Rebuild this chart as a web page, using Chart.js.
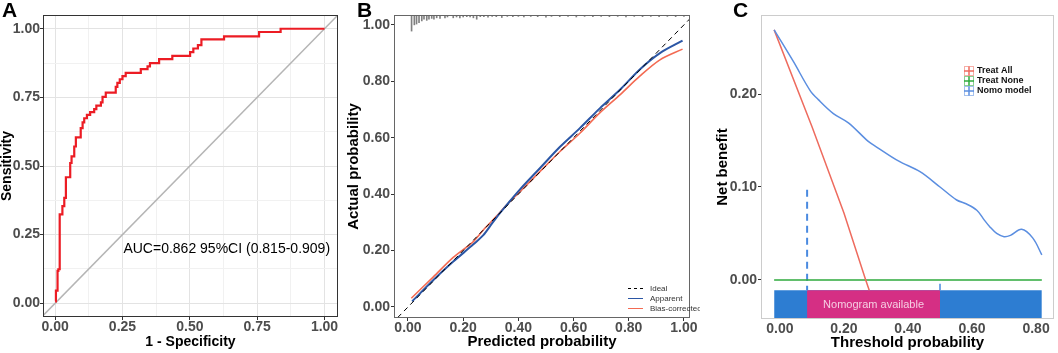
<!DOCTYPE html>
<html>
<head>
<meta charset="utf-8">
<title>ROC, calibration and decision curves</title>
<script src="https://cdn.jsdelivr.net/npm/chart.js"></script>
<style>
  body { margin: 0; background: #fff; font-family: "Liberation Sans", Arial, sans-serif; }
  #wrap { position: relative; width: 1058px; height: 353px; overflow: hidden; }
  canvas { position: absolute; top: 0; }
  .tag { position: absolute; top: -1px; font-size: 21px; line-height: 21px; font-weight: bold; color: #000; }
</style>
</head>
<body>
<div id="wrap">
  <canvas id="rocChart" width="345" height="353" style="left:0"></canvas>
  <canvas id="calChart" width="355" height="353" style="left:345px"></canvas>
  <canvas id="dcaChart" width="358" height="353" style="left:700px"></canvas>
  <div class="tag" style="left:2px">A</div>
  <div class="tag" style="left:357px">B</div>
  <div class="tag" style="left:733px">C</div>
</div>

<script>
  // ---- A: ROC curve (step points: at each fpr the curve rises to sens)
  const rocFpr = [0, 0.003, 0.009, 0.012, 0.017, 0.027, 0.034, 0.040, 0.056, 0.061,
                  0.071, 0.077, 0.095, 0.102, 0.108, 0.118, 0.130, 0.145, 0.153, 0.170,
                  0.176, 0.188, 0.225, 0.231, 0.240, 0.250, 0.262, 0.318, 0.343, 0.352,
                  0.386, 0.435, 0.501, 0.513, 0.530, 0.543, 0.627, 0.757, 0.837, 1.0];
  const rocSens = [0.007, 0.046, 0.118, 0.124, 0.324, 0.354, 0.384, 0.459, 0.511, 0.535,
                   0.571, 0.604, 0.638, 0.659, 0.674, 0.686, 0.696, 0.707, 0.720, 0.732,
                   0.752, 0.767, 0.788, 0.803, 0.816, 0.827, 0.839, 0.853, 0.863, 0.875,
                   0.889, 0.901, 0.915, 0.928, 0.940, 0.961, 0.972, 0.988, 1.0, 1.0];
  const rocTicks = [0, 0.25, 0.5, 0.75, 1];
  const rocMinor = [0.125, 0.375, 0.625, 0.875];
  const aucText = 'AUC=0.862 95%CI (0.815-0.909)';

  // ---- B: calibration curve
  const calTicks = [0, 0.2, 0.4, 0.6, 0.8, 1];
  const apparentX = [0.015, 0.092, 0.164, 0.237, 0.273, 0.300, 0.321, 0.358, 0.406, 0.478, 0.551, 0.623, 0.696, 0.768, 0.841, 0.913, 0.995];
  const apparentY = [0.020, 0.096, 0.161, 0.222, 0.255, 0.290, 0.318, 0.362, 0.417, 0.492, 0.568, 0.634, 0.705, 0.770, 0.843, 0.900, 0.944];
  const biasX = [0.012, 0.092, 0.164, 0.237, 0.273, 0.321, 0.358, 0.406, 0.478, 0.551, 0.623, 0.696, 0.768, 0.841, 0.913, 0.995];
  const biasY = [0.031, 0.107, 0.176, 0.232, 0.273, 0.322, 0.362, 0.409, 0.480, 0.551, 0.616, 0.689, 0.752, 0.819, 0.876, 0.914];
  // distribution of predicted probabilities (spike heights, y units)
  const spikeX = [0.013, 0.023, 0.031, 0.040, 0.050, 0.058, 0.068, 0.076, 0.086, 0.094,
                  0.104, 0.116, 0.134, 0.143, 0.164, 0.176, 0.188, 0.200, 0.213, 0.225,
                  0.237, 0.249, 0.262, 0.275, 0.290, 0.305, 0.320, 0.340, 0.360, 0.380,
                  0.400, 0.420, 0.445, 0.470, 0.500, 0.520, 0.550, 0.580, 0.610, 0.640,
                  0.670, 0.700, 0.730, 0.760, 0.790, 0.820, 0.850, 0.880, 0.910, 0.940,
                  0.970, 1.000];
  const spikeH = [0.057, 0.035, 0.032, 0.027, 0.021, 0.015, 0.019, 0.015, 0.012, 0.015,
                  0.010, 0.012, 0.010, 0.007, 0.010, 0.007, 0.010, 0.007, 0.006, 0.007,
                  0.010, 0.015, 0.006, 0.006, 0.008, 0.005, 0.006, 0.009, 0.005, 0.006,
                  0.005, 0.007, 0.005, 0.006, 0.008, 0.005, 0.006, 0.005, 0.007, 0.005,
                  0.006, 0.005, 0.006, 0.005, 0.007, 0.005, 0.006, 0.005, 0.006, 0.005,
                  0.006, 0.005];
  const calLegend = ['Ideal', 'Apparent', 'Bias-corrected'];

  // ---- C: decision curve
  const dcaTicksX = [0, 0.2, 0.4, 0.6, 0.8];
  const dcaTicksY = [0, 0.1, 0.2];
  const threshold = [-0.018, 0.042, 0.094, 0.120, 0.167, 0.214, 0.276, 0.302, 0.370, 0.4375,
                     0.500, 0.552, 0.583, 0.615, 0.635, 0.656, 0.677, 0.700, 0.720, 0.755, 0.790, 0.818];
  const nomoNB = [0.269, 0.235, 0.204, 0.194, 0.179, 0.169, 0.149, 0.143, 0.128, 0.1165,
                  0.100, 0.086, 0.0817, 0.075, 0.066, 0.057, 0.050, 0.0466, 0.048, 0.0545, 0.045, 0.027];
  const treatAllX = [-0.018, 0.100, 0.200, 0.268, 0.279];
  const treatAllNB = [0.269, 0.165, 0.072, 0, -0.011];
  const treatNoneX = [-0.018, 0.818];
  const treatNoneNB = [0, 0];
  const cutLow = 0.085, cutHigh = 0.5;
  const dcaLegend = ['Treat All', 'Treat None', 'Nomo model'];

  const FONT = '"Liberation Sans", Arial, sans-serif';
  Chart.defaults.font.family = FONT;
  Chart.defaults.animation = false;
  Chart.defaults.responsive = false;
  Chart.defaults.events = [];
  Chart.defaults.plugins.legend.display = false;
  Chart.defaults.plugins.tooltip.enabled = false;
  Chart.defaults.elements.point.radius = 0;

  const pts = (xs, ys) => xs.map((x, i) => ({ x: x, y: ys[i] }));
  const fmt2 = v => v.toFixed(2);

  function scale(o) {
    return {
      type: 'linear', min: o.min, max: o.max, offset: false,
      afterBuildTicks: s => { s.ticks = o.ticks.map(v => ({ value: v })); },
      afterFit: s => { if (s.isHorizontal()) s.height = o.size; else s.width = o.size; },
      ticks: {
        autoSkip: false, maxRotation: 0, padding: o.tickPad || 0,
        color: '#4d4d4d', font: { size: 14, weight: 'bold', lineHeight: 1 },
        callback: o.label || fmt2
      },
      grid: Object.assign({ offset: false, drawOnChartArea: false, tickLength: 3, tickColor: '#333333' }, o.grid || {}),
      border: { display: false },
      title: { display: true, text: o.title, color: '#000', font: { size: o.titleSize || 15, weight: 'bold', lineHeight: 1 }, padding: o.titlePad }
    };
  }

  function frame(color) {
    return {
      id: 'frame',
      afterDatasetsDraw(chart) {
        const a = chart.chartArea, c = chart.ctx;
        c.save();
        c.strokeStyle = color; c.lineWidth = 1;
        c.strokeRect(Math.round(a.left) + 0.5, Math.round(a.top) + 0.5, Math.round(a.width) - 1, Math.round(a.height) - 1);
        c.restore();
      }
    };
  }

  // ---------- A
  const rocGrid = {
    drawOnChartArea: true,
    color: c => rocMinor.includes(c.tick.value) ? '#f1f1f1' : '#e3e3e3',
    tickColor: c => rocMinor.includes(c.tick.value) ? 'rgba(0,0,0,0)' : '#333333'
  };
  const rocLabel = v => rocTicks.includes(v) ? v.toFixed(2) : '';

  new Chart(document.getElementById('rocChart'), {
    type: 'line',
    data: {
      datasets: [
        { data: pts(rocFpr, rocSens), borderColor: '#ec1c24', borderWidth: 2.2, stepped: 'before' },
        { data: pts([-0.05, 1.05], [-0.05, 1.05]), borderColor: '#b5b5b5', borderWidth: 1.5 }
      ]
    },
    options: {
      layout: { padding: { top: 15, right: 7, left: 0, bottom: 0 } },
      scales: {
        x: scale({ min: -0.045, max: 1.05, ticks: rocTicks.concat(rocMinor), size: 36, label: rocLabel,
                   grid: rocGrid, title: '1 - Specificity', titleSize: 14, titlePad: { top: 0, bottom: 4 } }),
        y: scale({ min: -0.05, max: 1.05, ticks: rocTicks.concat(rocMinor), size: 43, label: rocLabel,
                   grid: rocGrid, title: 'Sensitivity', titleSize: 14, titlePad: { top: 0, bottom: 0 } })
      }
    },
    plugins: [frame('#333333'), {
      id: 'auc',
      afterDatasetsDraw(chart) {
        const c = chart.ctx, x = chart.scales.x, y = chart.scales.y;
        c.save();
        c.font = '14px ' + FONT; c.fillStyle = '#000';
        c.textAlign = 'center'; c.textBaseline = 'middle';
        c.fillText(aucText, x.getPixelForValue(0.637), y.getPixelForValue(0.197));
        c.restore();
      }
    }]
  });

  // ---------- B
  const calMax = 1.035;
  const calColors = ['#000000', '#2b56a5', '#f36a52'];

  new Chart(document.getElementById('calChart'), {
    type: 'line',
    data: {
      datasets: [
        { data: pts([-0.06, 1.06], [-0.06, 1.06]), borderColor: calColors[0], borderWidth: 1, borderDash: [5, 4] },
        { data: pts(apparentX, apparentY), borderColor: calColors[1], borderWidth: 2, tension: 0.3 },
        { data: pts(biasX, biasY), borderColor: calColors[2], borderWidth: 1.6, tension: 0.3 },
        { type: 'bar', data: spikeX.map((x, i) => ({ x: x, y: [calMax - spikeH[i], calMax] })),
          backgroundColor: '#808080', barThickness: 1, grouped: false }
      ]
    },
    options: {
      layout: { padding: { top: 15, right: 10, left: 0, bottom: 0 } },
      scales: {
        x: scale({ min: -0.0507, max: 1.022, ticks: calTicks, size: 35,
                   title: 'Predicted probability', titlePad: { top: 0, bottom: 3.5 } }),
        y: scale({ min: -0.039, max: calMax, ticks: calTicks, size: 49, tickPad: 1,
                   title: 'Actual probability', titlePad: { top: 1.5, bottom: 0 } })
      }
    },
    plugins: [frame('#666666'), {
      id: 'calLegend',
      afterDraw(chart) {
        const c = chart.ctx, a = chart.chartArea;
        c.save();
        c.font = '8px ' + FONT; c.textBaseline = 'middle'; c.fillStyle = '#333';
        calLegend.forEach((name, i) => {
          const y = Math.round(a.bottom - 30 + i * 10) + 0.5;
          c.strokeStyle = calColors[i];
          c.lineWidth = 1;
          c.setLineDash(i ? [] : [3, 3]);
          c.beginPath(); c.moveTo(a.right - 62, y); c.lineTo(a.right - 47, y); c.stroke();
          c.fillText(name, a.right - 40, y);
        });
        c.restore();
      }
    }]
  });

  // ---------- C
  const dcaColors = ['#ee6b5e', '#2eaa3c', '#5b8ee0'];

  new Chart(document.getElementById('dcaChart'), {
    type: 'line',
    data: {
      datasets: [
        { data: pts(threshold, nomoNB), borderColor: dcaColors[2], borderWidth: 1.5, tension: 0.35 },
        { data: pts(treatAllX, treatAllNB), borderColor: dcaColors[0], borderWidth: 1.5 },
        { data: pts(treatNoneX, treatNoneNB), borderColor: dcaColors[1], borderWidth: 1.5 },
        { data: pts([cutLow, cutLow], [0.097, -0.011]), borderColor: '#4a8ae0', borderWidth: 2, borderDash: [7, 5] },
        { data: pts([cutHigh, cutHigh], [-0.004, -0.011]), borderColor: '#4a8ae0', borderWidth: 1.5 },
        { data: pts([cutLow, cutHigh], [-0.011, -0.011]), borderWidth: 0, fill: 'start', backgroundColor: '#d52f84' },
        { data: pts([treatNoneX[0], treatNoneX[1]], [-0.011, -0.011]), borderWidth: 0, fill: 'start', backgroundColor: '#2d7dd2' }
      ]
    },
    options: {
      layout: { padding: { top: 15, right: 4, left: 0, bottom: 0 } },
      scales: {
        x: scale({ min: -0.059, max: 0.856, ticks: dcaTicksX, size: 34, grid: { tickColor: 'rgba(0,0,0,0)' },
                   title: 'Threshold probability', titlePad: { top: 0, bottom: 3 } }),
        y: scale({ min: -0.042, max: 0.285, ticks: dcaTicksY, size: 61, tickPad: 1,
                   title: 'Net benefit', titlePad: { top: 15.5, bottom: 0 } })
      }
    },
    plugins: [frame('#cccccc'), {
      id: 'dcaText',
      afterDraw(chart) {
        const c = chart.ctx, a = chart.chartArea, x = chart.scales.x, y = chart.scales.y;
        c.save();
        c.font = '11px ' + FONT; c.fillStyle = '#f6cde2';
        c.textAlign = 'center'; c.textBaseline = 'middle';
        c.fillText('Nomogram available', x.getPixelForValue((cutLow + cutHigh) / 2), y.getPixelForValue(-0.027));
        c.textAlign = 'left';
        c.font = 'bold 9px ' + FONT;
        dcaLegend.forEach((name, i) => {
          const x0 = Math.round(a.left + 203), yc = Math.round(a.top + 56 + i * 10);
          c.strokeStyle = dcaColors[i];
          c.globalAlpha = 0.55; c.lineWidth = 1;
          c.strokeRect(x0 + 0.5, yc - 4.5, 9, 9);
          c.globalAlpha = 1; c.lineWidth = 1.5;
          c.beginPath();
          c.moveTo(x0, yc); c.lineTo(x0 + 10, yc);
          c.moveTo(x0 + 5, yc - 4.5); c.lineTo(x0 + 5, yc + 4.5);
          c.stroke();
          c.fillStyle = '#111';
          c.fillText(name, x0 + 13, yc);
        });
        c.restore();
      }
    }]
  });
</script>
</body>
</html>
